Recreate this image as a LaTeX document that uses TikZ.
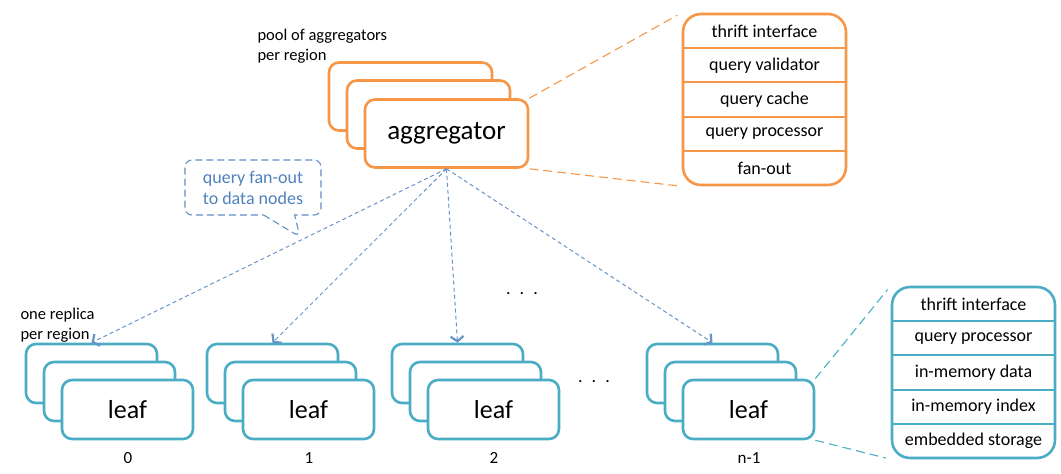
\documentclass[tikz,border=0pt]{standalone}
\usepackage{fontspec}
\setmainfont{Carlito}
\usetikzlibrary{arrows.meta,shapes.callouts,positioning}
\definecolor{aggorange}{HTML}{F79646}
\definecolor{leafteal}{HTML}{4BACC6}
\definecolor{fanblue}{HTML}{4F81BD}

\begin{document}
\begin{tikzpicture}[x=1pt,y=-1pt,
  card/.style={draw=#1,line width=2.6pt,fill=white,rounded corners=10pt,inner sep=0pt},
  aggcard/.style={card=aggorange,minimum width=163pt,minimum height=68pt},
  leafcard/.style={card=leafteal,minimum width=131pt,minimum height=59pt},
  detail/.style={draw=#1,fill=white,line width=2.6pt,rounded corners=18pt,minimum width=163pt,minimum height=171pt},
  row/.style={font=\fontsize{18}{21}\selectfont},
  zoomline/.style={draw=#1,dash pattern=on 9pt off 5pt,line width=1.1pt,shorten >=5pt},
  fan/.style={draw=fanblue!85,line width=1pt,dash pattern=on 4pt off 3pt,-{Straight Barb[length=5pt,width=13pt,line width=2.2pt]}},
  ]
\useasboundingbox (0,0) rectangle (1061,474);

\node[anchor=west,align=left,font=\fontsize{16.5}{20}\selectfont] (poolnote) at (254,46) {pool of aggregators\\per region};
\node[aggcard] (aggback) at (410.5,96.5) {};
\node[aggcard] (aggmid) at (428.5,114.5) {};
\node[aggcard,font=\fontsize{27}{30}\selectfont] (agg) at (446.5,133.5) {aggregator};

\foreach \x/\idx/\lbl in {26/0/0,207/1/1,392/2/2,647/3/n-1} {
  \node[leafcard] (back\idx) at (\x+65.5,373.5) {};
  \node[leafcard] (mid\idx) at (\x+83.5,391.5) {};
  \node[leafcard,font=\fontsize{26}{30}\selectfont] (leaf\idx) at (\x+101.5,409.5) {leaf};
  \node[font=\fontsize{17}{20}\selectfont] (num\idx) at (\x+102,458) {\lbl};
}
\node[anchor=west,align=left,font=\fontsize{16.5}{20}\selectfont] (replicanote) at (17,325) {one replica\\per region};
\foreach \idx in {0,...,3}
  \draw[fan] (agg.south) -- (back\idx.north);

\node[anchor=base,font=\fontsize{18}{20}\selectfont] (dotsup) at (522,294) {.\hspace{9pt}.\hspace{9pt}.};
\node[anchor=base,font=\fontsize{18}{20}\selectfont] (dotsdown) at (594,382) {.\hspace{9pt}.\hspace{9pt}.};

\node[rectangle callout,draw=fanblue!90,dash pattern=on 7pt off 4pt,line width=1.1pt,rounded corners=7pt,
  minimum width=136pt,minimum height=55pt,callout absolute pointer={(300,237)},
  callout pointer width=31pt,text=fanblue,align=center,font=\fontsize{18}{21}\selectfont]
  (fannote) at (253,187.5) {query fan-out\\to data nodes};

\node[detail=aggorange] (aggdetail) at (764.5,99.5) {};
\draw[zoomline=aggorange] (agg.north east) -- (aggdetail.north west);
\draw[zoomline=aggorange] (agg.south east) -- (aggdetail.south west);
\foreach \i in {1,...,4}
  \draw[aggorange,line width=2pt] (683,14+34.2*\i) -- (846,14+34.2*\i);
\foreach \i/\txt in {0/thrift interface,1/query validator,2/query cache,3/query processor,4/fan-out}
  \node[row] (aggrow\i) at (764.5,31.1+34.2*\i) {\txt};

\node[detail=leafteal] (leafdetail) at (973.5,372.5) {};
\draw[zoomline=leafteal] (leaf3.north east) -- (leafdetail.north west);
\draw[zoomline=leafteal] (leaf3.south east) -- (leafdetail.south west);
\foreach \i in {1,...,4}
  \draw[leafteal,line width=2pt] (892,287+34.2*\i) -- (1055,287+34.2*\i);
\foreach \i/\txt in {0/thrift interface,1/query processor,2/in-memory data,3/in-memory index,4/embedded storage}
  \node[row] (leafrow\i) at (973.5,304.1+34.2*\i) {\txt};
\end{tikzpicture}
\end{document}
